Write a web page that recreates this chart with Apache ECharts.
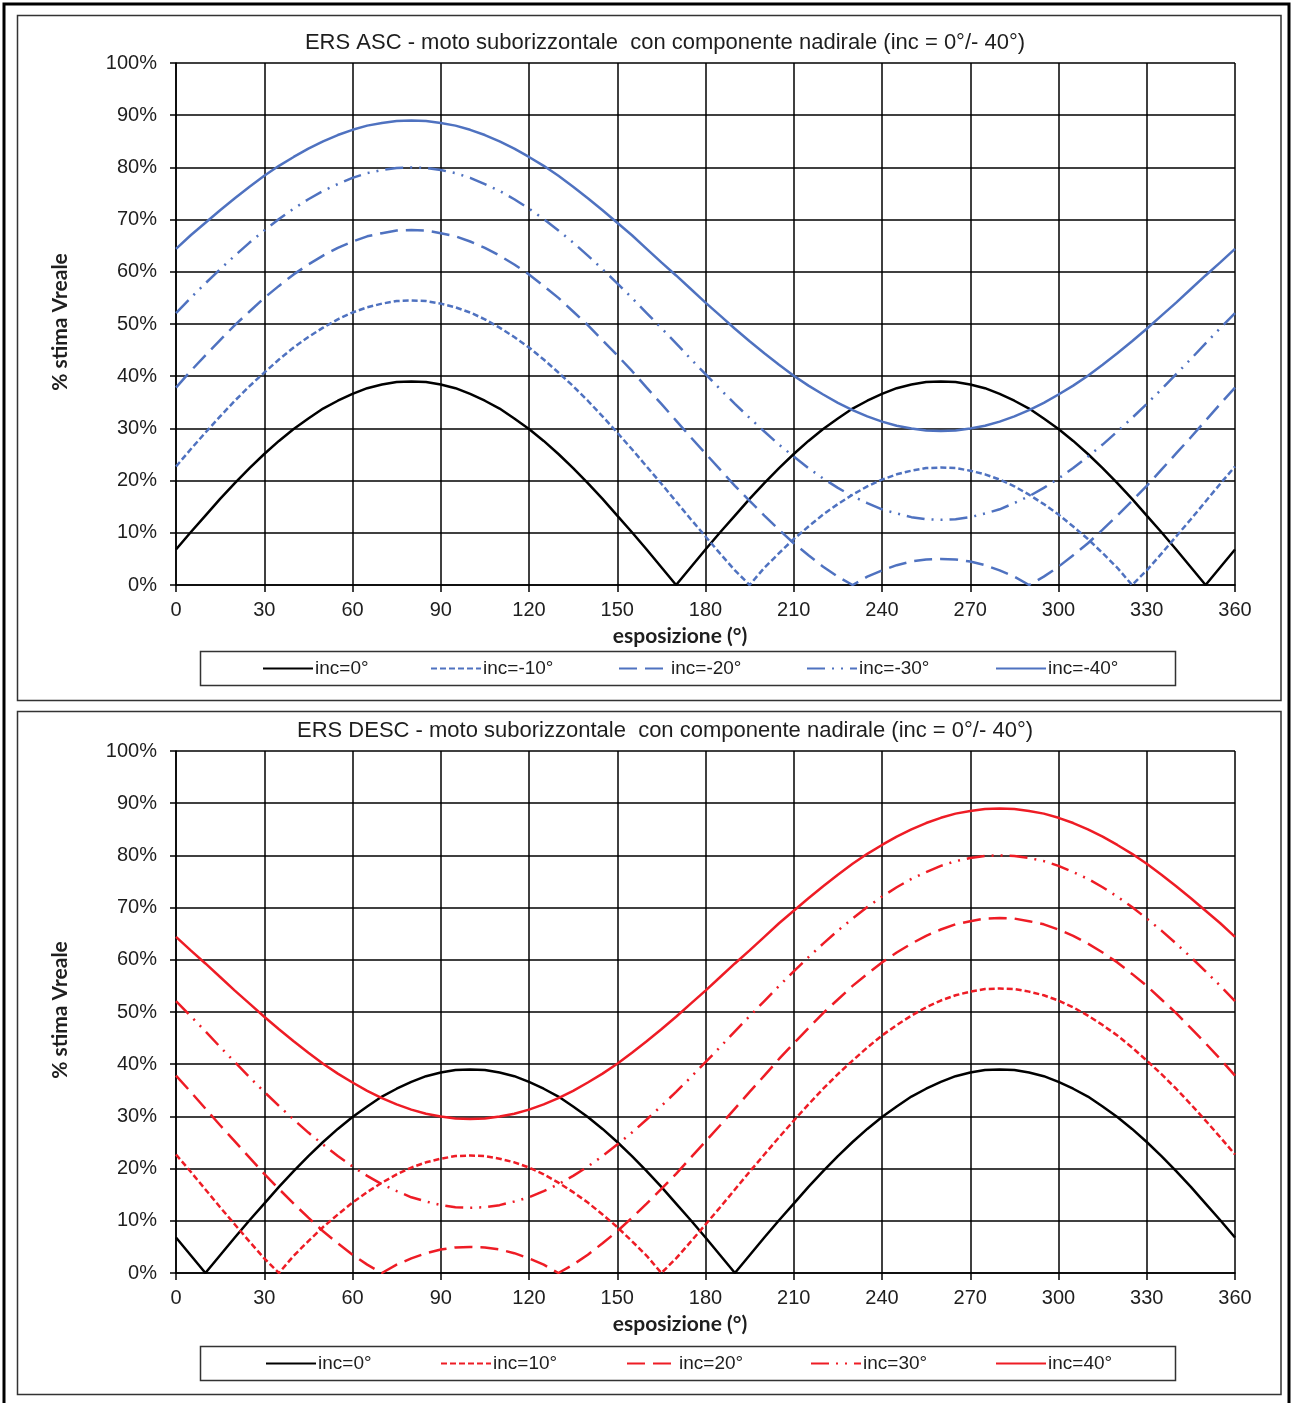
<!DOCTYPE html>
<html>
<head>
<meta charset="utf-8">
<script src="https://cdn.jsdelivr.net/npm/echarts@6/dist/echarts.min.js"></script>
<style>
html,body{margin:0;padding:0;background:#fff;}
#chart{width:1293px;height:1403px;}
</style>
</head>
<body>
<div id="chart"></div>
<script>
// ---- data ----
const angles = [0,5,10,15,20,25,30,35,40,45,50,55,60,65,70,75,80,85,90,95,100,105,110,115,120,125,130,135,140,145,150,155,160,165,170,175,180,185,190,195,200,205,210,215,220,225,230,235,240,245,250,255,260,265,270,275,280,285,290,295,300,305,310,315,320,325,330,335,340,345,350,355,360];
const xTicks = [0,30,60,90,120,150,180,210,240,270,300,330,360];
const yTicks = [0,10,20,30,40,50,60,70,80,90,100];

const ascNames = ['inc=0°','inc=-10°','inc=-20°','inc=-30°','inc=-40°'];
const descNames = ['inc=0°','inc=10°','inc=20°','inc=30°','inc=40°'];

const ascInc0 = [6.8,10.1,13.3,16.5,19.5,22.4,25.1,27.6,29.9,31.9,33.8,35.3,36.6,37.7,38.4,38.9,39.0,38.9,38.4,37.7,36.6,35.3,33.8,31.9,29.9,27.6,25.1,22.4,19.5,16.5,13.3,10.1,6.8,3.4,0,3.4,6.8,10.1,13.3,16.5,19.5,22.4,25.1,27.6,29.9,31.9,33.8,35.3,36.6,37.7,38.4,38.9,39.0,38.9,38.4,37.7,36.6,35.3,33.8,31.9,29.9,27.6,25.1,22.4,19.5,16.5,13.3,10.1,6.8,3.4,0,3.4,6.8];
const ascInc10 = [22.7,26.0,29.2,32.3,35.3,38.1,40.7,43.2,45.5,47.5,49.3,50.9,52.2,53.2,53.9,54.4,54.5,54.4,53.9,53.2,52.2,50.9,49.3,47.5,45.5,43.2,40.7,38.1,35.3,32.3,29.2,26.0,22.7,19.4,16.0,12.6,9.3,6.0,2.8,0,3.3,6.1,8.8,11.2,13.5,15.5,17.3,18.9,20.2,21.2,21.9,22.4,22.5,22.4,21.9,21.2,20.2,18.9,17.3,15.5,13.5,11.2,8.8,6.1,3.3,0,2.8,6.0,9.3,12.6,16.0,19.4,22.7];
const ascInc20 = [37.8,41.0,44.0,46.9,49.8,52.4,55.0,57.3,59.5,61.4,63.1,64.6,65.8,66.8,67.4,67.9,68.0,67.9,67.4,66.8,65.8,64.6,63.1,61.4,59.5,57.3,55.0,52.4,49.8,46.9,44.0,41.0,37.8,34.7,31.5,28.3,25.2,22.1,19.0,16.1,13.3,10.6,8.0,5.7,3.5,1.6,0,1.6,2.8,3.8,4.5,4.9,5.0,4.9,4.5,3.8,2.8,1.6,0,1.6,3.5,5.7,8.0,10.6,13.3,16.1,19.0,22.1,25.2,28.3,31.5,34.7,37.8];
const ascInc30 = [52.1,55.0,57.8,60.5,63.1,65.6,67.9,70.1,72.1,73.9,75.5,76.8,78.0,78.9,79.5,79.9,80.0,79.9,79.5,78.9,78.0,76.8,75.5,73.9,72.1,70.1,67.9,65.6,63.1,60.5,57.8,55.0,52.1,49.2,46.3,43.3,40.4,37.5,34.7,32.0,29.4,26.9,24.6,22.4,20.4,18.6,17.0,15.7,14.5,13.7,13.0,12.6,12.5,12.6,13.0,13.7,14.5,15.7,17.0,18.6,20.4,22.4,24.6,26.9,29.4,32.0,34.7,37.5,40.4,43.3,46.3,49.2,52.1];
const ascInc40 = [64.4,67.0,69.4,71.8,74.1,76.3,78.4,80.3,82.0,83.6,85.0,86.2,87.2,88.0,88.5,88.9,89.0,88.9,88.5,88.0,87.2,86.2,85.0,83.6,82.0,80.3,78.4,76.3,74.1,71.8,69.4,67.0,64.4,61.8,59.3,56.7,54.1,51.6,49.1,46.7,44.4,42.2,40.1,38.2,36.5,34.9,33.5,32.3,31.3,30.5,30.0,29.6,29.5,29.6,30.0,30.5,31.3,32.3,33.5,34.9,36.5,38.2,40.1,42.2,44.4,46.7,49.1,51.6,54.1,56.7,59.3,61.8,64.4];

const descInc0 = [6.8,3.4,0,3.4,6.8,10.1,13.3,16.5,19.5,22.4,25.1,27.6,29.9,31.9,33.8,35.3,36.6,37.7,38.4,38.9,39.0,38.9,38.4,37.7,36.6,35.3,33.8,31.9,29.9,27.6,25.1,22.4,19.5,16.5,13.3,10.1,6.8,3.4,0,3.4,6.8,10.1,13.3,16.5,19.5,22.4,25.1,27.6,29.9,31.9,33.8,35.3,36.6,37.7,38.4,38.9,39.0,38.9,38.4,37.7,36.6,35.3,33.8,31.9,29.9,27.6,25.1,22.4,19.5,16.5,13.3,10.1,6.8];
const descInc10 = [22.7,19.4,16.0,12.6,9.3,6.0,2.8,0,3.3,6.1,8.8,11.2,13.5,15.5,17.3,18.9,20.2,21.2,21.9,22.4,22.5,22.4,21.9,21.2,20.2,18.9,17.3,15.5,13.5,11.2,8.8,6.1,3.3,0,2.8,6.0,9.3,12.6,16.0,19.4,22.7,26.0,29.2,32.3,35.3,38.1,40.7,43.2,45.5,47.5,49.3,50.9,52.2,53.2,53.9,54.4,54.5,54.4,53.9,53.2,52.2,50.9,49.3,47.5,45.5,43.2,40.7,38.1,35.3,32.3,29.2,26.0,22.7];
const descInc20 = [37.8,34.7,31.5,28.3,25.2,22.1,19.0,16.1,13.3,10.6,8.0,5.7,3.5,1.6,0,1.6,2.8,3.8,4.5,4.9,5.0,4.9,4.5,3.8,2.8,1.6,0,1.6,3.5,5.7,8.0,10.6,13.3,16.1,19.0,22.1,25.2,28.3,31.5,34.7,37.8,41.0,44.0,46.9,49.8,52.4,55.0,57.3,59.5,61.4,63.1,64.6,65.8,66.8,67.4,67.9,68.0,67.9,67.4,66.8,65.8,64.6,63.1,61.4,59.5,57.3,55.0,52.4,49.8,46.9,44.0,41.0,37.8];
const descInc30 = [52.1,49.2,46.3,43.3,40.4,37.5,34.7,32.0,29.4,26.9,24.6,22.4,20.4,18.6,17.0,15.7,14.5,13.7,13.0,12.6,12.5,12.6,13.0,13.7,14.5,15.7,17.0,18.6,20.4,22.4,24.6,26.9,29.4,32.0,34.7,37.5,40.4,43.3,46.3,49.2,52.1,55.0,57.8,60.5,63.1,65.6,67.9,70.1,72.1,73.9,75.5,76.8,78.0,78.9,79.5,79.9,80.0,79.9,79.5,78.9,78.0,76.8,75.5,73.9,72.1,70.1,67.9,65.6,63.1,60.5,57.8,55.0,52.1];
const descInc40 = [64.4,61.8,59.3,56.7,54.1,51.6,49.1,46.7,44.4,42.2,40.1,38.2,36.5,34.9,33.5,32.3,31.3,30.5,30.0,29.6,29.5,29.6,30.0,30.5,31.3,32.3,33.5,34.9,36.5,38.2,40.1,42.2,44.4,46.7,49.1,51.6,54.1,56.7,59.3,61.8,64.4,67.0,69.4,71.8,74.1,76.3,78.4,80.3,82.0,83.6,85.0,86.2,87.2,88.0,88.5,88.9,89.0,88.9,88.5,88.0,87.2,86.2,85.0,83.6,82.0,80.3,78.4,76.3,74.1,71.8,69.4,67.0,64.4];

// ---- styling ----
const FONT = '"Liberation Sans", Arial, sans-serif';
const BOLDFONT = 'Lato, "Open Sans", sans-serif';
const TXT = '#1e1e1e';
const BLUE = '#4f72c0';
const RED = '#ee1c25';
const dashStyles = ['solid', [6,3], [18,8], [18,7,2,7,2,7], 'solid'];

const panels = [
  {title: 'ERS ASC - moto suborizzontale  con componente nadirale (inc = 0°/- 40°)', names: ascNames, color: BLUE,
   data: [ascInc0, ascInc10, ascInc20, ascInc30, ascInc40], top: 63, legendTop: 668,
   legendLefts: [262, 430, 618, 806, 995], box: [17.5, 15.5, 1263.5, 685], lbox: [200, 651, 975, 34]},
  {title: 'ERS DESC - moto suborizzontale  con componente nadirale (inc = 0°/- 40°)', names: descNames, color: RED,
   data: [descInc0, descInc10, descInc20, descInc30, descInc40], top: 751, legendTop: 1363,
   legendLefts: [265, 440, 626, 810, 995], box: [17.5, 711.5, 1263.5, 683], lbox: [200, 1346, 975, 34]}
];

const grids = [], xAxes = [], yAxes = [], series = [], titles = [], legends = [], graphics = [];

graphics.push({type: 'rect', shape: {x: 4, y: 4, width: 1285, height: 1410}, style: {fill: 'none', stroke: '#000', lineWidth: 3}, z: 100});

panels.forEach((p, pi) => {
  graphics.push({type: 'rect', shape: {x: p.box[0], y: p.box[1], width: p.box[2], height: p.box[3]}, style: {fill: 'none', stroke: '#333', lineWidth: 1.5}});
  graphics.push({type: 'rect', shape: {x: p.lbox[0] + 0.5, y: p.lbox[1] + 0.5, width: p.lbox[2], height: p.lbox[3]}, style: {fill: 'none', stroke: '#333', lineWidth: 1.5}});
  grids.push({left: 176, top: p.top, width: 1059, height: 522, show: false});
  xAxes.push({
    type: 'value', gridIndex: pi, min: 0, max: 360, interval: 30,
    axisLine: {show: true, onZero: false, lineStyle: {color: '#000', width: 1.5}},
    axisTick: {show: true, length: 7, lineStyle: {color: '#000', width: 1.5}},
    splitLine: {show: true, lineStyle: {color: '#000', width: 1.5}},
    axisLabel: {color: TXT, fontFamily: FONT, fontSize: 20, margin: 15,
      formatter: v => xTicks.indexOf(v) >= 0 ? String(v) : ''}
  });
  yAxes.push({
    type: 'value', gridIndex: pi, min: 0, max: 100, interval: 10,
    axisLine: {show: true, lineStyle: {color: '#000', width: 1.5}},
    axisTick: {show: true, length: 6, lineStyle: {color: '#000', width: 1.5}},
    splitLine: {show: true, lineStyle: {color: '#000', width: 1.5}},
    axisLabel: {color: TXT, fontFamily: FONT, fontSize: 20, margin: 19,
      formatter: v => yTicks.indexOf(v) >= 0 ? v + '%' : ''}
  });
  titles.push({text: p.title, left: 660, top: p.top - 36, textAlign: 'center',
    textStyle: {color: TXT, fontFamily: FONT, fontSize: 22, fontWeight: 'normal'}});
  titles.push({text: 'esposizione (°)', left: 675, top: p.top + 558, textAlign: 'center',
    textStyle: {color: TXT, fontFamily: BOLDFONT, fontSize: 21, fontWeight: 'bold'}});
  graphics.push({type: 'text', x: 60, y: p.top + 259, rotation: Math.PI / 2,
    style: {text: '% stima Vreale', fill: TXT, font: 'bold 21px ' + BOLDFONT, textAlign: 'center', textVerticalAlign: 'middle'}});
  p.names.forEach((nm, si) => {
    const col = si === 0 ? '#000' : p.color;
    series.push({
      name: nm, type: 'line', xAxisIndex: pi, yAxisIndex: pi,
      data: angles.map((a, i) => [a, p.data[si][i]]),
      symbol: 'none', showSymbol: false, smooth: false, animation: false,
      lineStyle: {color: col, width: 2.5, type: dashStyles[si]},
      itemStyle: {color: col}, z: 3 + si
    });
    legends.push({
      data: [nm], left: p.legendLefts[si], top: p.legendTop - 9, itemWidth: 50, itemHeight: 14,
      selectedMode: false, padding: 0,
      itemStyle: {opacity: 0, color: 'rgba(0,0,0,0)', borderWidth: 0},
      textStyle: {color: TXT, fontFamily: FONT, fontSize: 19, padding: [0, 0, 0, -3]}
    });
  });
});

const chart = echarts.init(document.getElementById('chart'), null, {renderer: 'canvas'});
chart.setOption({
  backgroundColor: '#fff',
  animation: false,
  title: titles,
  grid: grids,
  xAxis: xAxes,
  yAxis: yAxes,
  legend: legends,
  series: series,
  graphic: graphics
});
</script>
</body>
</html>
